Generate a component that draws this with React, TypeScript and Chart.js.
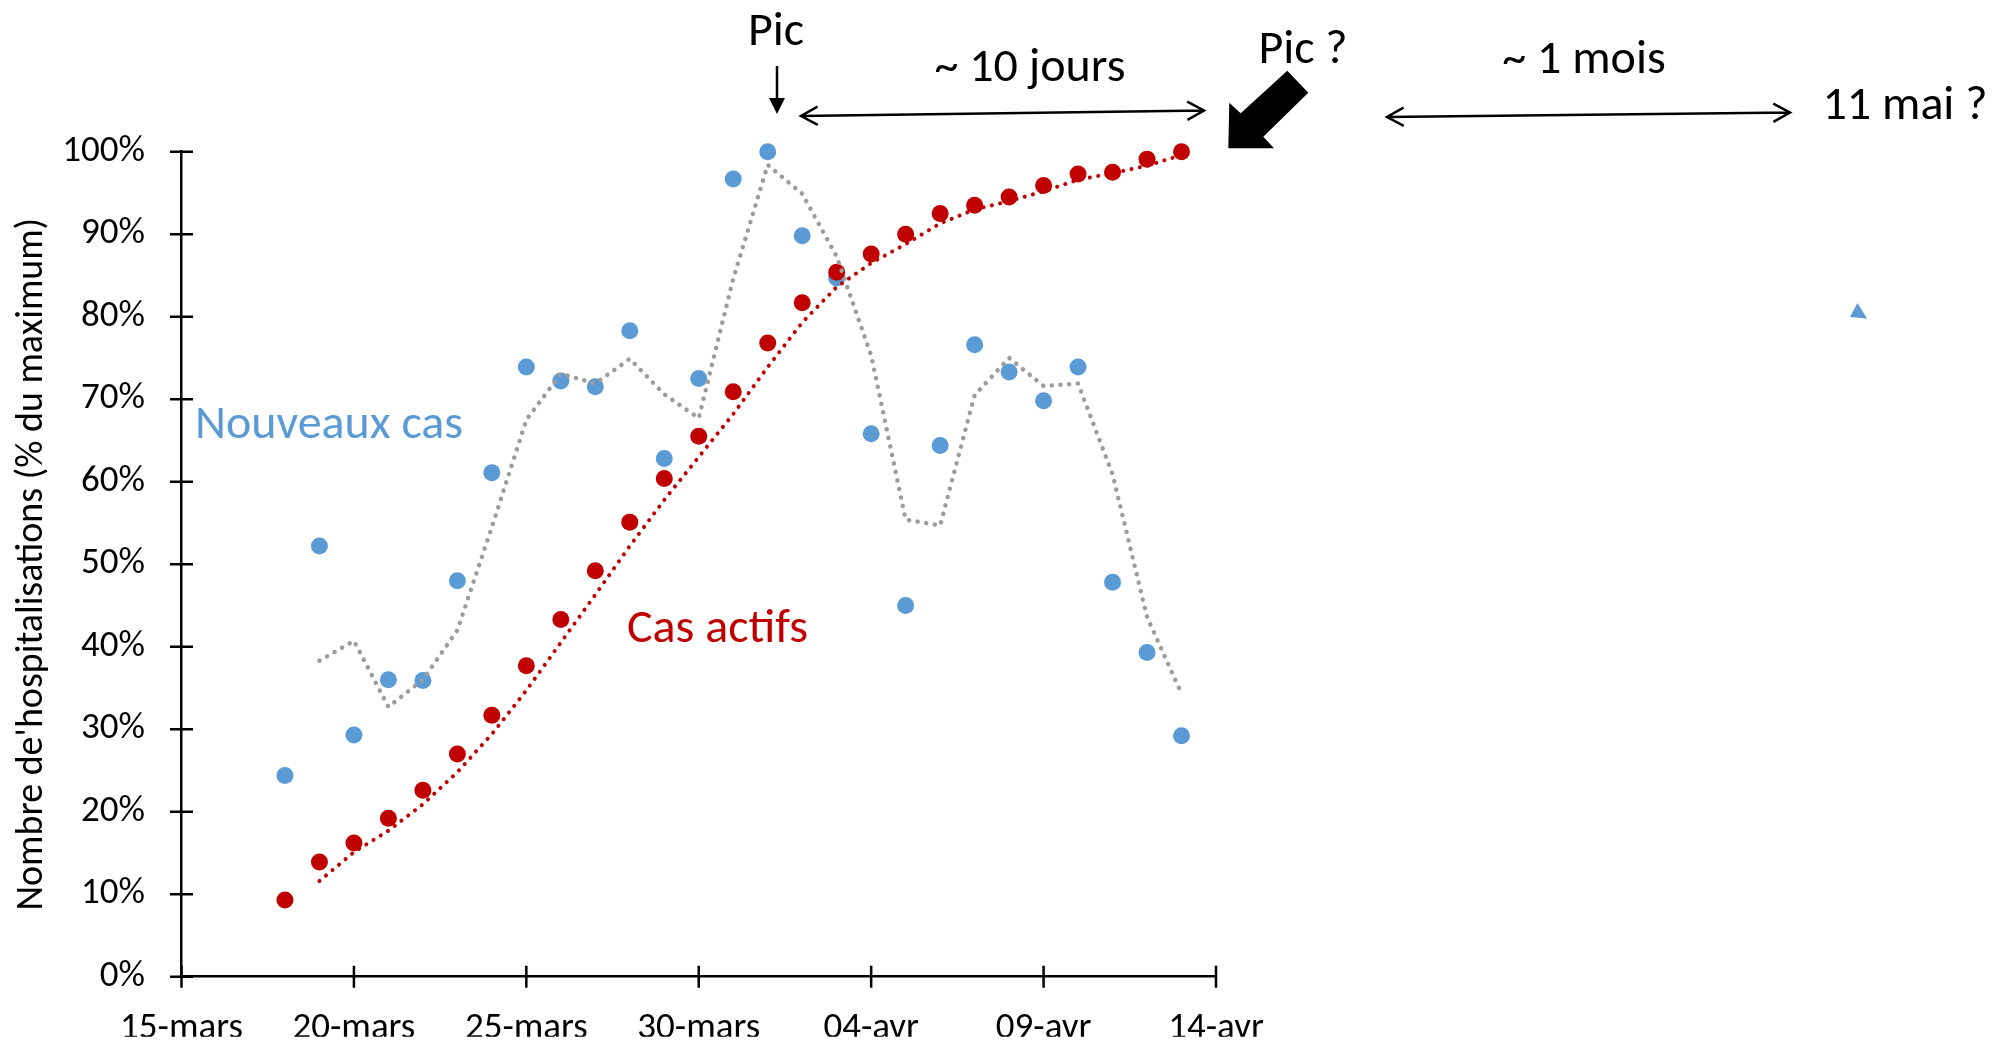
import React, { useEffect, useRef } from 'react';
import { Chart, registerables } from 'chart.js';

Chart.register(...registerables);

// ---- Data ----
const axisDays = [
  '15-mars', '16-mars', '17-mars', '18-mars', '19-mars', '20-mars', '21-mars', '22-mars',
  '23-mars', '24-mars', '25-mars', '26-mars', '27-mars', '28-mars', '29-mars', '30-mars',
  '31-mars', '01-avr', '02-avr', '03-avr', '04-avr', '05-avr', '06-avr', '07-avr',
  '08-avr', '09-avr', '10-avr', '11-avr', '12-avr', '13-avr', '14-avr',
];
const tickLabels = ['15-mars', '20-mars', '25-mars', '30-mars', '04-avr', '09-avr', '14-avr'];
const yTicks = [0, 10, 20, 30, 40, 50, 60, 70, 80, 90, 100];

const dataDays = [
  '18-mars', '19-mars', '20-mars', '21-mars', '22-mars', '23-mars', '24-mars', '25-mars',
  '26-mars', '27-mars', '28-mars', '29-mars', '30-mars', '31-mars', '01-avr', '02-avr',
  '03-avr', '04-avr', '05-avr', '06-avr', '07-avr', '08-avr', '09-avr', '10-avr',
  '11-avr', '12-avr', '13-avr',
];
const nouveauxCas = [
  24.4, 52.2, 29.3, 36.0, 35.9, 48.0, 61.1, 73.9, 72.2, 71.5, 78.3, 62.8, 72.5, 96.7,
  100, 89.8, 84.7, 65.8, 45.0, 64.4, 76.6, 73.3, 69.8, 73.9, 47.8, 39.3, 29.2,
];
const casActifs = [
  9.3, 13.9, 16.2, 19.2, 22.6, 27.0, 31.7, 37.7, 43.3, 49.2, 55.1, 60.4, 65.5, 70.9,
  76.8, 81.7, 85.4, 87.6, 90.0, 92.5, 93.5, 94.5, 95.9, 97.3, 97.5, 99.1, 100,
];
// moving-average trend lines (start on 19-mars)
const trendDays = dataDays.slice(1);
const tendanceNouveaux = [
  38.3, 40.7, 32.7, 36.0, 42.0, 54.5, 67.5, 73.1, 71.9, 74.9, 70.6, 67.7, 84.6, 98.4,
  94.9, 87.3, 75.3, 55.4, 54.7, 70.5, 75.0, 71.6, 71.9, 60.9, 43.6, 34.3,
];
const tendanceActifs = [
  11.6, 15.1, 17.7, 20.9, 24.8, 29.4, 34.7, 40.5, 46.3, 52.2, 57.8, 63.0, 68.2, 73.9,
  79.3, 83.6, 86.5, 88.8, 91.3, 93.0, 94.0, 95.2, 96.6, 97.4, 98.3, 99.6,
];

const FONT = 'Carlito, Calibri, Lato, sans-serif';
const BLUE = '#5B9BD5';
const RED = '#C00000';
const GREY = '#9C9C9C';

const pts = (days: string[], vals: number[]) => days.map((d, i) => ({ x: d, y: vals[i] }));

function drawDoubleArrow(ctx: CanvasRenderingContext2D, x1: number, y1: number, x2: number, y2: number) {
  const ang = Math.atan2(y2 - y1, x2 - x1);
  const L = 19, spread = 0.5;
  ctx.beginPath();
  ctx.moveTo(x1, y1);
  ctx.lineTo(x2, y2);
  ctx.moveTo(x2 - L * Math.cos(ang - spread), y2 - L * Math.sin(ang - spread));
  ctx.lineTo(x2, y2);
  ctx.lineTo(x2 - L * Math.cos(ang + spread), y2 - L * Math.sin(ang + spread));
  ctx.moveTo(x1 + L * Math.cos(ang - spread), y1 + L * Math.sin(ang - spread));
  ctx.lineTo(x1, y1);
  ctx.lineTo(x1 + L * Math.cos(ang + spread), y1 + L * Math.sin(ang + spread));
  ctx.stroke();
}

const annotationPlugin = {
  id: 'annotations',
  afterDraw(chart: any) {
    const ctx: CanvasRenderingContext2D = chart.ctx;
    const { x, y } = chart.scales;
    const area = chart.chartArea;
    ctx.save();
    // crossing tick marks
    ctx.strokeStyle = '#000';
    ctx.lineWidth = 2.5;
    ctx.beginPath();
    yTicks.forEach((v) => {
      const py = y.getPixelForValue(v);
      ctx.moveTo(area.left - 11.5, py);
      ctx.lineTo(area.left + 11.5, py);
    });
    tickLabels.forEach((lab) => {
      const px = x.getPixelForValue(axisDays.indexOf(lab));
      ctx.moveTo(px, area.bottom - 11);
      ctx.lineTo(px, area.bottom + 11);
    });
    ctx.stroke();

    // y axis title
    ctx.save();
    ctx.translate(41.5, (area.top + area.bottom) / 2);
    ctx.rotate(-Math.PI / 2);
    ctx.fillStyle = '#000';
    ctx.font = `38px ${FONT}`;
    ctx.textAlign = 'center';
    ctx.textBaseline = 'alphabetic';
    ctx.fillText("Nombre de'hospitalisations (% du maximum)", 0, 0);
    ctx.restore();

    // series labels
    ctx.textBaseline = 'alphabetic';
    ctx.textAlign = 'left';
    ctx.font = `48px ${FONT}`;
    ctx.fillStyle = BLUE;
    ctx.fillText('Nouveaux cas', 195, 438);
    ctx.fillStyle = RED;
    ctx.fillText('Cas actifs', 627, 642);

    // top annotations
    ctx.fillStyle = '#000';
    ctx.textAlign = 'center';
    ctx.font = `48px ${FONT}`;
    ctx.fillText('Pic', 776, 45);
    ctx.fillText('~ 10 jours', 1030, 81);
    ctx.fillText('Pic ?', 1303, 63);
    ctx.fillText('~ 1 mois', 1584, 73);
    ctx.fillText('11 mai ?', 1905, 119);

    // small down arrow under "Pic"
    ctx.lineWidth = 2.5;
    ctx.beginPath();
    ctx.moveTo(777, 66);
    ctx.lineTo(777, 100);
    ctx.stroke();
    ctx.beginPath();
    ctx.moveTo(769, 98);
    ctx.lineTo(785, 98);
    ctx.lineTo(777, 114);
    ctx.closePath();
    ctx.fill();

    // double arrows
    ctx.lineWidth = 2.5;
    drawDoubleArrow(ctx, 801, 116, 1204, 110.5);
    drawDoubleArrow(ctx, 1387, 117, 1790, 112.5);

    // big block arrow
    ctx.beginPath();
    ctx.moveTo(1228.3, 148.3);
    ctx.lineTo(1229.3, 102.7);
    ctx.lineTo(1240.7, 113.3);
    ctx.lineTo(1287.3, 70.7);
    ctx.lineTo(1308.3, 92.7);
    ctx.lineTo(1263.3, 136.7);
    ctx.lineTo(1274, 148.3);
    ctx.closePath();
    ctx.fill();

    // small blue triangle
    ctx.fillStyle = BLUE;
    ctx.beginPath();
    ctx.moveTo(1857.5, 303);
    ctx.lineTo(1850, 317);
    ctx.lineTo(1867, 318.5);
    ctx.closePath();
    ctx.fill();

    ctx.restore();
  },
};

export default function App() {
  const ref = useRef<HTMLCanvasElement | null>(null);

  useEffect(() => {
    document.body.style.margin = '0';
    if (!ref.current) return;
    const chart = new Chart(ref.current, {
      type: 'line',
      data: {
        labels: axisDays,
        datasets: [
          {
            label: 'Moyenne nouveaux cas',
            data: pts(trendDays, tendanceNouveaux),
            borderColor: GREY,
            borderWidth: 4.5,
            borderDash: [0.1, 8.6],
            borderCapStyle: 'round',
            pointRadius: 0,
            tension: 0,
            fill: false,
            clip: false,
            order: 0,
          } as any,
          {
            label: 'Moyenne cas actifs',
            data: pts(trendDays, tendanceActifs),
            borderColor: RED,
            borderWidth: 4,
            borderDash: [0.1, 8.4],
            borderCapStyle: 'round',
            pointRadius: 0,
            tension: 0,
            fill: false,
            clip: false,
            order: 1,
          } as any,
          {
            label: 'Cas actifs',
            data: pts(dataDays, casActifs),
            showLine: false,
            pointRadius: 8.5,
            pointBackgroundColor: RED,
            pointBorderColor: RED,
            pointBorderWidth: 0,
            clip: false,
            order: 2,
          } as any,
          {
            label: 'Nouveaux cas',
            data: pts(dataDays, nouveauxCas),
            showLine: false,
            pointRadius: 8.5,
            pointBackgroundColor: BLUE,
            pointBorderColor: BLUE,
            pointBorderWidth: 0,
            clip: false,
            order: 3,
          } as any,
        ],
      },
      options: {
        animation: false,
        responsive: false,
        events: [],
        layout: { padding: { left: 21.5, top: 151.7, right: 782, bottom: 5.3 } },
        plugins: { legend: { display: false }, tooltip: { enabled: false } },
        scales: {
          x: {
            type: 'category',
            offset: false,
            grid: { display: false, drawTicks: false },
            border: { display: true, color: '#000', width: 2.5 },
            ticks: {
              autoSkip: false,
              maxRotation: 0,
              minRotation: 0,
              padding: 30,
              color: '#000',
              font: { family: FONT, size: 37 },
              callback: (v: any) => axisDays[v],
            },
            afterBuildTicks: (s: any) => {
              s.ticks = s.ticks.filter((t: any) => tickLabels.includes(axisDays[t.value]));
            },
            afterFit: (s: any) => {
              s.height = 60;
            },
          },
          y: {
            min: 0,
            max: 100,
            grid: { display: false, drawTicks: false },
            border: { display: true, color: '#000', width: 2.5 },
            ticks: {
              stepSize: 10,
              padding: 36.5,
              color: '#000',
              font: { family: FONT, size: 37 },
              callback: (v: any) => `${v}%`,
            },
            afterFit: (s: any) => {
              s.width = 160;
            },
          },
        },
      } as any,
      plugins: [annotationPlugin],
    });
    return () => chart.destroy();
  }, []);

  return (
    <div style={{ position: 'fixed', left: 0, top: 0, width: 1998, height: 1042, background: '#fff' }}>
      <canvas ref={ref} width={1998} height={1042} style={{ width: 1998, height: 1042, display: 'block' }} />
    </div>
  );
}
